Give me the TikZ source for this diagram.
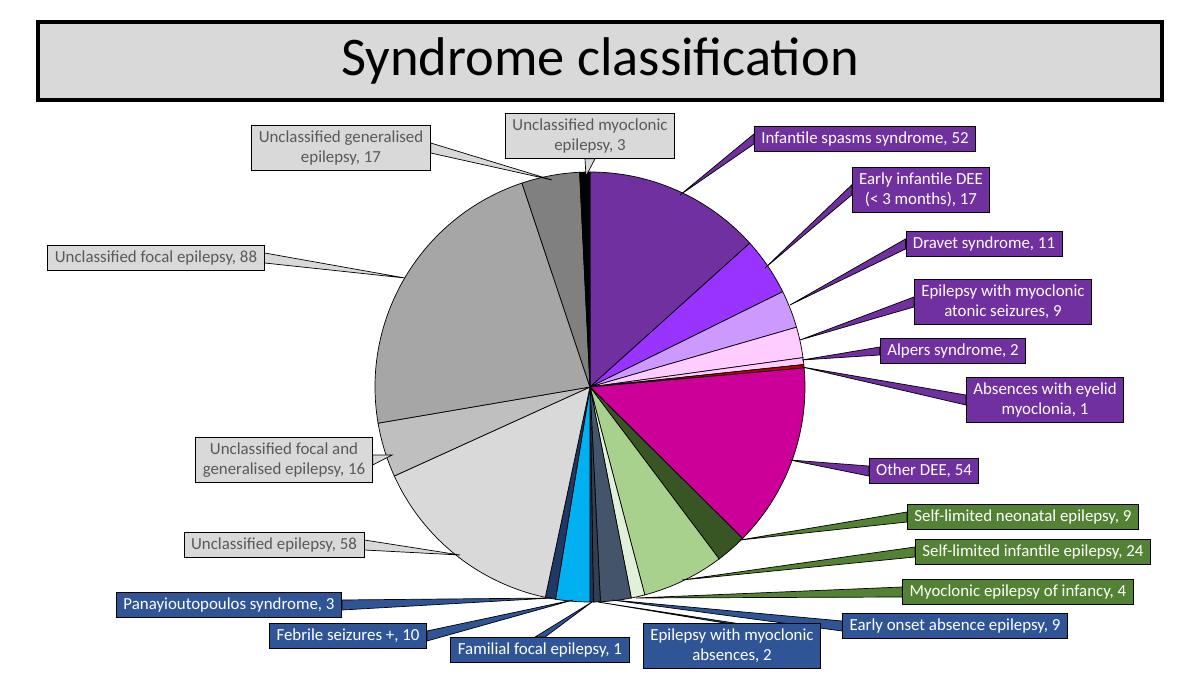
\documentclass[tikz,border=0pt]{standalone}
\usepackage{fontspec}
\setmainfont{Carlito}
\usetikzlibrary{calc}
\definecolor{pur}{HTML}{7030A0}
\definecolor{grn}{HTML}{548235}
\definecolor{blu}{HTML}{2F5597}
\definecolor{gbox}{HTML}{D9D9D9}
\definecolor{gtxt}{HTML}{595959}
\begin{document}
\begin{tikzpicture}[x=0.02cm,y=-0.02cm,
  lab/.style={draw=black,line width=0.5pt,align=center,inner xsep=4pt,inner ysep=3pt,font=\fontsize{9.6}{11.3}\selectfont},
  P/.style={lab,fill=pur,text=white},
  G/.style={lab,fill=grn,text=white},
  B/.style={lab,fill=blu,text=white},
  U/.style={lab,fill=gbox,text=gtxt},
  sl/.style={draw=black,line width=0.4pt}]
\useasboundingbox[fill=white] (0,0) rectangle (1200,675);
\node[draw=black,line width=2pt,fill=gbox,minimum width=1124*0.02cm,minimum height=78*0.02cm,font=\fontsize{31}{35}\selectfont] (title) at (600,61) {Syndrome classification};
% pie
\coordinate (c) at (590,387);
\begin{scope}[shift={(590,387)},yscale=-1]
\def\R{215}
\foreach \a/\b/\col in {90/42/7030A0, 42/26.31/9933FF, 26.31/16.15/CC99FF, 16.15/7.85/FFCCFF, 7.85/6.0/FFCCFF, 6.0/5.08/C00000,
 5.08/-44.77/CC0099, -44.77/-53.08/375623, -53.08/-75.23/A9D18E, -75.23/-78.92/E2F0D9, -78.92/-87.23/44546A, -87.23/-89.08/333F50,
 -89.08/-90/1F3864, -90/-99.23/00B0F0, -99.23/-102/1F3864, -102/-155.54/D9D9D9, -155.54/-170.31/BFBFBF, -170.31/-251.54/A6A6A6,
 -251.54/-267.23/808080, -267.23/-270/000000}{
  \definecolor{tmp}{HTML}{\col}
  \filldraw[sl,fill=tmp] (0,0) -- (\a:\R) arc[start angle=\a,end angle=\b,radius=\R] -- cycle;
}
\end{scope}
% labels
\node[U] (ug) at (341,148) {Unclassified generalised\\epilepsy, 17};
\node[U] (um) at (590,136) {Unclassified myoclonic\\epilepsy, 3};
\node[P] (is) at (865,139) {Infantile spasms syndrome, 52};
\node[P] (ei) at (921,190) {Early infantile DEE\\(< 3 months), 17};
\node[P] (dr) at (984,244) {Dravet syndrome, 11};
\node[P] (em) at (1003,302) {Epilepsy with myoclonic\\atonic seizures, 9};
\node[P] (al) at (953,351) {Alpers syndrome, 2};
\node[P] (ab) at (1045,400) {Absences with eyelid\\myoclonia, 1};
\node[P] (od) at (924,471) {Other DEE, 54};
\node[G] (sn) at (1023,517) {Self-limited neonatal epilepsy, 9};
\node[G] (si) at (1033,552) {Self-limited infantile epilepsy, 24};
\node[G] (mi) at (1018,592) {Myoclonic epilepsy of infancy, 4};
\node[B] (eo) at (955,626) {Early onset absence epilepsy, 9};
\node[B] (ma) at (732,646) {Epilepsy with myoclonic\\absences, 2};
\node[B] (ff) at (540,650) {Familial focal epilepsy, 1};
\node[B] (fs) at (348,636) {Febrile seizures +, 10};
\node[B] (pa) at (229,605) {Panayioutopoulos syndrome, 3};
\node[U] (ue) at (274,545) {Unclassified epilepsy, 58};
\node[U] (ufg) at (284,460) {Unclassified focal and\\generalised epilepsy, 16};
\node[U] (uf) at (156,258) {Unclassified focal epilepsy, 88};
% callouts
\foreach \n/\an/\dx/\dy/\tx/\ty/\f in {ug/east/0/5/552/180/gbox, um/south/5/0/586/176/gbox, is/west/0/5/680/195/pur, ei/west/0/5/765/268/pur,
 dr/west/0/5/790/305/pur, em/west/0/5/800/340/pur, al/west/0/4/802/360/pur, ab/west/0/5/802/367/pur, od/west/0/5/790/460/pur,
 sn/west/0/5/740/540/grn, si/west/0/5/682/580/grn, mi/west/0/5/636/598/grn, eo/west/0/5/612/600/blu, ma/north/5/0/598/602/blu,
 ff/north/5/0/592/602/blu, fs/east/0/5/573/600/blu, pa/east/0/5/552/598/blu, ue/east/0/5/460/555/gbox, ufg/east/0/5/392/455/gbox,
 uf/east/0/5/405/278/gbox}{
  \filldraw[draw=black,line width=0.4pt,fill=\f] ($(\n.\an)+(\dx,\dy)$) -- (\tx,\ty) -- ($(\n.\an)-(\dx,\dy)$) -- cycle;
}
% redraw boxes on top
\node[U] at (ug) {Unclassified generalised\\epilepsy, 17};
\node[U] at (um) {Unclassified myoclonic\\epilepsy, 3};
\node[P] at (is) {Infantile spasms syndrome, 52};
\node[P] at (ei) {Early infantile DEE\\(< 3 months), 17};
\node[P] at (dr) {Dravet syndrome, 11};
\node[P] at (em) {Epilepsy with myoclonic\\atonic seizures, 9};
\node[P] at (al) {Alpers syndrome, 2};
\node[P] at (ab) {Absences with eyelid\\myoclonia, 1};
\node[P] at (od) {Other DEE, 54};
\node[G] at (sn) {Self-limited neonatal epilepsy, 9};
\node[G] at (si) {Self-limited infantile epilepsy, 24};
\node[G] at (mi) {Myoclonic epilepsy of infancy, 4};
\node[B] at (eo) {Early onset absence epilepsy, 9};
\node[B] at (ma) {Epilepsy with myoclonic\\absences, 2};
\node[B] at (ff) {Familial focal epilepsy, 1};
\node[B] at (fs) {Febrile seizures +, 10};
\node[B] at (pa) {Panayioutopoulos syndrome, 3};
\node[U] at (ue) {Unclassified epilepsy, 58};
\node[U] at (ufg) {Unclassified focal and\\generalised epilepsy, 16};
\node[U] at (uf) {Unclassified focal epilepsy, 88};
\end{tikzpicture}
\end{document}
